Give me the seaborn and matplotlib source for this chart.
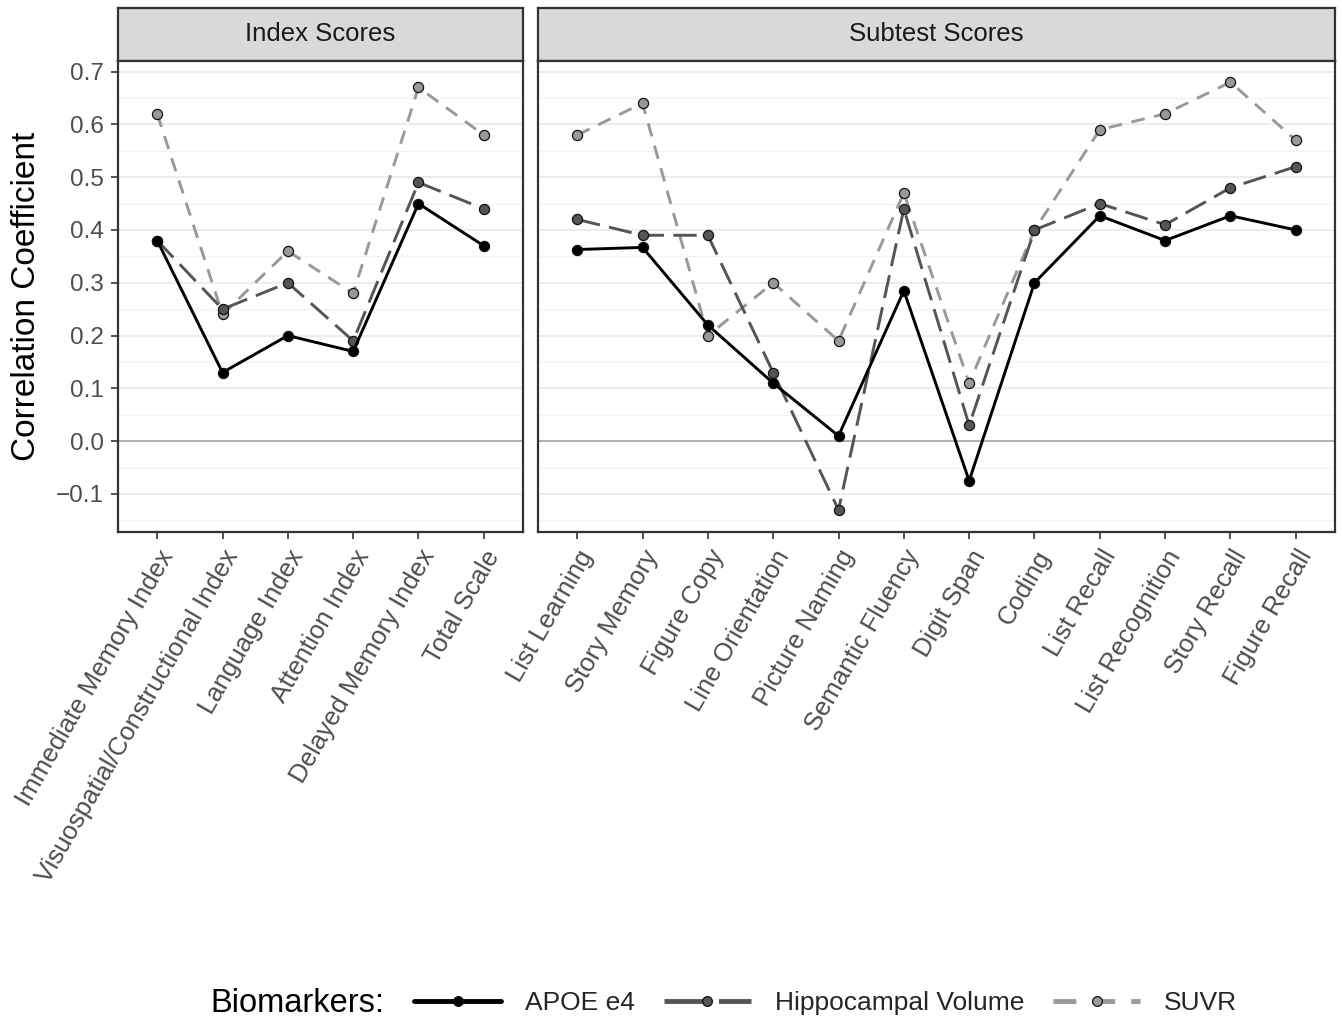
import numpy as np
import pandas as pd
import matplotlib
matplotlib.use('Agg')
import matplotlib.pyplot as plt
from matplotlib.lines import Line2D
from matplotlib.ticker import MultipleLocator, FuncFormatter
import seaborn as sns

# --- data ---
index_labels = ['Immediate Memory Index', 'Visuospatial/Constructional Index',
                'Language Index', 'Attention Index', 'Delayed Memory Index', 'Total Scale']
index_apoe = [0.38, 0.13, 0.20, 0.17, 0.45, 0.37]
index_hippo = [0.38, 0.25, 0.30, 0.19, 0.49, 0.44]
index_suvr = [0.62, 0.24, 0.36, 0.28, 0.67, 0.58]

subtest_labels = ['List Learning', 'Story Memory', 'Figure Copy', 'Line Orientation',
                  'Picture Naming', 'Semantic Fluency', 'Digit Span', 'Coding',
                  'List Recall', 'List Recognition', 'Story Recall', 'Figure Recall']
subtest_apoe = [0.363, 0.367, 0.22, 0.11, 0.01, 0.285, -0.075, 0.30, 0.427, 0.38, 0.427, 0.40]
subtest_hippo = [0.42, 0.39, 0.39, 0.13, -0.13, 0.44, 0.03, 0.40, 0.45, 0.41, 0.48, 0.52]
subtest_suvr = [0.58, 0.64, 0.20, 0.30, 0.19, 0.47, 0.11, 0.40, 0.59, 0.62, 0.68, 0.57]

biomarkers = ['APOE e4', 'Hippocampal Volume', 'SUVR']
y_ticks = [-0.1, 0.0, 0.1, 0.2, 0.3, 0.4, 0.5, 0.6, 0.7]

colors = {'APOE e4': '#000000', 'Hippocampal Volume': '#555555', 'SUVR': '#999999'}
dash_styles = {'APOE e4': '', 'Hippocampal Volume': (8, 3.2), 'SUVR': (4.7, 3.3)}
draw_order = ['SUVR', 'Hippocampal Volume', 'APOE e4']


def make_frame(labels, apoe, hippo, suvr):
    frames = []
    for name, vals in zip(biomarkers, [apoe, hippo, suvr]):
        frames.append(pd.DataFrame({'pos': np.arange(len(labels)), 'label': labels,
                                    'value': vals, 'Biomarker': name}))
    return pd.concat(frames, ignore_index=True)


panels = [
    ('Index Scores', index_labels, make_frame(index_labels, index_apoe, index_hippo, index_suvr)),
    ('Subtest Scores', subtest_labels, make_frame(subtest_labels, subtest_apoe, subtest_hippo, subtest_suvr)),
]

sns.set_style('white')
plt.rcParams['font.family'] = ['Liberation Sans', 'DejaVu Sans']

fig = plt.figure(figsize=(13.42, 10.24), dpi=100)
gs = fig.add_gridspec(2, 2, width_ratios=[405, 797], height_ratios=[53, 471.5],
                      left=118 / 1342, right=1335 / 1342, top=1 - 7.5 / 1024,
                      bottom=1 - 532 / 1024, wspace=0.025, hspace=0)

border = '#333333'
for col, (title, labels, df) in enumerate(panels):
    strip = fig.add_subplot(gs[0, col])
    ax = fig.add_subplot(gs[1, col])

    # facet strip
    strip.set_facecolor('#D9D9D9')
    strip.set_xticks([])
    strip.set_yticks([])
    for s in strip.spines.values():
        s.set_color(border)
        s.set_linewidth(1.6)
    strip.text(0.5, 0.5, title, ha='center', va='center', fontsize=18.5,
               color='#1A1A1A', transform=strip.transAxes)

    # grid
    ax.yaxis.set_major_locator(MultipleLocator(0.1))
    ax.yaxis.set_minor_locator(MultipleLocator(0.05))
    ax.grid(which='major', axis='y', color='#EBEBEB', lw=1.3, zorder=0)
    ax.grid(which='minor', axis='y', color='#F2F2F2', lw=0.9, zorder=0)
    ax.grid(which='major', axis='x', visible=False)
    ax.set_axisbelow(True)
    ax.axhline(0, color='#ABABAB', lw=1.3, zorder=1)

    sns.lineplot(data=df, x='pos', y='value', hue='Biomarker', style='Biomarker',
                 hue_order=draw_order, style_order=draw_order, palette=colors,
                 dashes=dash_styles, markers={b: 'o' for b in biomarkers},
                 sort=False, lw=2.1, markersize=7.3, markeredgecolor='#111111',
                 markeredgewidth=0.9, legend=False, ax=ax, zorder=3)

    ax.set_xlim(-0.6, len(labels) - 0.4)
    ax.set_ylim(-0.172, 0.721)
    ax.set_xticks(np.arange(len(labels)))
    ax.set_xticklabels(labels, rotation=60, ha='right', va='top',
                       rotation_mode='anchor', fontsize=18.5, color='#4D4D4D')
    ax.set_xlabel('')
    ax.set_ylabel('')
    ax.tick_params(axis='x', which='major', length=5, width=1.2, color=border,
                   pad=5, bottom=True)
    ax.tick_params(axis='y', which='minor', length=0)
    for s in ax.spines.values():
        s.set_color(border)
        s.set_linewidth(1.6)
        s.set_zorder(5)

    if col == 0:
        ax.set_yticks(y_ticks)
        ax.yaxis.set_major_formatter(FuncFormatter(
            lambda v, p: f'{v:.1f}'.replace('-', '\u2212')))
        ax.tick_params(axis='y', which='major', length=5, width=1.2, color=border,
                       labelsize=17.5, labelcolor='#4D4D4D', pad=5, left=True)
        ax.set_ylabel('Correlation Coefficient', fontsize=24, color='#000000', labelpad=10)
    else:
        ax.tick_params(axis='y', which='both', left=False, labelleft=False)

# legend at the bottom
fig.text(210 / 1342, 1 - 1003 / 1024, 'Biomarkers:', fontsize=23.5,
         ha='left', va='center', color='#000000')
handles = []
for b in biomarkers:
    h = Line2D([0], [0], color=colors[b], lw=3.5, marker='o', markersize=7,
               markerfacecolor=colors[b], markeredgecolor='#111111', markeredgewidth=0.9)
    if dash_styles[b]:
        h.set_dashes(dash_styles[b])
    handles.append(h)
fig.legend(handles, biomarkers, loc='center left', bbox_to_anchor=(414 / 1342, 1 - 1003 / 1024),
           ncol=3, frameon=False, fontsize=19, handlelength=3.3, handletextpad=0.9,
           columnspacing=1.1, borderpad=0, borderaxespad=0)

fig.savefig('out.png', dpi=100)
